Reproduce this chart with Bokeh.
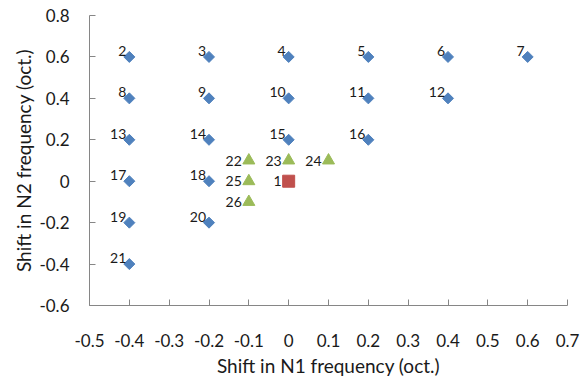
from bokeh.plotting import figure
from bokeh.models import ColumnDataSource, FixedTicker, Range1d, Title
from bokeh.core.properties import value
from bokeh.embed import file_html
from bokeh.resources import INLINE
import math

# --- data ---
diamond_ids = ["2", "3", "4", "5", "6", "7", "8", "9", "10", "11", "12",
               "13", "14", "15", "16", "17", "18", "19", "20", "21"]
diamond_x = [-0.4, -0.2, 0.0, 0.2, 0.4, 0.6, -0.4, -0.2, 0.0, 0.2, 0.4,
             -0.4, -0.2, 0.0, 0.2, -0.4, -0.2, -0.4, -0.2, -0.4]
diamond_y = [0.6, 0.6, 0.6, 0.6, 0.6, 0.6, 0.4, 0.4, 0.4, 0.4, 0.4,
             0.2, 0.2, 0.2, 0.2, 0.0, 0.0, -0.2, -0.2, -0.4]

triangle_ids = ["22", "23", "24", "25", "26"]
triangle_x = [-0.1, 0.0, 0.1, -0.1, -0.1]
triangle_y = [0.1, 0.1, 0.1, 0.0, -0.1]

square_ids = ["1"]
square_x = [0.0]
square_y = [0.0]

x_ticks = [-0.5, -0.4, -0.3, -0.2, -0.1, 0.0, 0.1, 0.2, 0.3, 0.4, 0.5, 0.6, 0.7]
y_ticks = [-0.6, -0.4, -0.2, 0.0, 0.2, 0.4, 0.6, 0.8]
x_title = "Shift in N1 frequency (oct.)"
y_title = "Shift in N2 frequency (oct.)"

FONT = "Lato"
BLUE = "#4F81BD"
GREEN = "#9BBB59"
RED = "#C0504D"
AX = "#868686"
TXT = "#1a1a1a"

p = figure(width=588, height=380, output_backend="svg", toolbar_location=None,
           x_range=Range1d(-0.5, 0.7), y_range=Range1d(-0.6, 0.8),
           min_border_left=89, min_border_right=21, min_border_top=15,
           min_border_bottom=75)
p.outline_line_color = None
p.xgrid.visible = False
p.ygrid.visible = False
p.background_fill_color = "white"

dsrc = ColumnDataSource(dict(x=diamond_x, y=diamond_y, t=diamond_ids))
tsrc = ColumnDataSource(dict(x=triangle_x, y=triangle_y, t=triangle_ids))
ssrc = ColumnDataSource(dict(x=square_x, y=square_y, t=square_ids))

p.scatter("x", "y", source=dsrc, marker="square", size=7.8, angle=math.pi / 4,
          fill_color=BLUE, line_color=BLUE)
p.scatter("x", "y", source=tsrc, marker="triangle", size=12,
          fill_color=GREEN, line_color=GREEN)
p.scatter("x", "y", source=ssrc, marker="square", size=12,
          fill_color=RED, line_color=RED)

common = dict(text="t", text_font=value(FONT), text_font_size="14px",
              text_color=TXT, text_align="right")
p.text("x", "y", source=dsrc, x_offset=-3, y_offset=-6,
       text_baseline="middle", **common)
p.text("x", "y", source=tsrc, x_offset=-7, y_offset=0,
       text_baseline="middle", **common)
p.text("x", "y", source=ssrc, x_offset=-7, y_offset=0,
       text_baseline="middle", **common)

for ax in (p.xaxis[0], p.yaxis[0]):
    ax.axis_line_color = AX
    ax.major_tick_line_color = AX
    ax.minor_tick_line_color = None
    ax.major_label_text_font = FONT
    ax.major_label_text_font_size = "17px"
    ax.major_label_text_color = TXT
    ax.axis_label_text_font = FONT
    ax.axis_label_text_font_size = "19px"
    ax.axis_label_text_font_style = "normal"
    ax.axis_label_text_color = TXT

xa = p.xaxis[0]
xa.ticker = FixedTicker(ticks=x_ticks)
xa.major_label_overrides = {t: ("0" if t == 0 else f"{t:.1f}") for t in x_ticks}
xa.major_tick_in = 6
xa.major_tick_out = 0
xa.major_label_standoff = 28
xa.axis_label = x_title
xa.axis_label_standoff = 4

ya = p.yaxis[0]
ya.ticker = FixedTicker(ticks=y_ticks)
ya.major_label_overrides = {t: ("0" if t == 0 else f"{t:.1f}") for t in y_ticks}
ya.major_tick_in = 6
ya.major_tick_out = 0
ya.major_label_standoff = 20

ytitle = Title(text=y_title, align="center", offset=21, standoff=3,
               text_font=FONT, text_font_size="19px",
               text_font_style="normal", text_color=TXT)
p.add_layout(ytitle, "left")

open("out.html", "w").write(file_html(p, INLINE))
